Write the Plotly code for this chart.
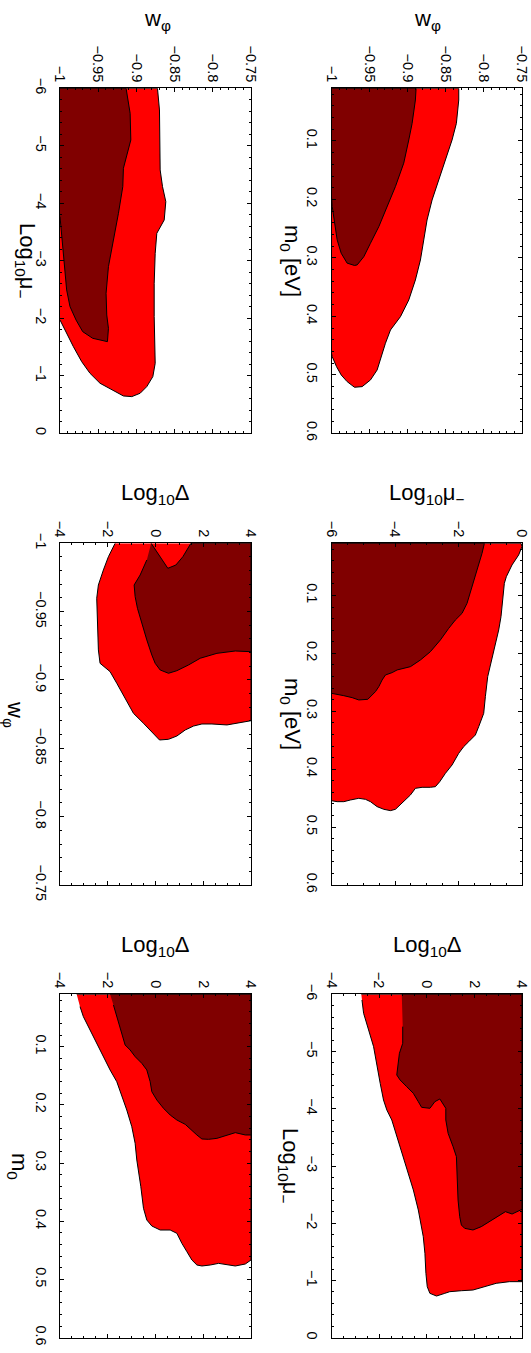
import plotly.graph_objects as go

# ---------------- tick labels ----------------
w_tickvals = [-1, -0.95, -0.9, -0.85, -0.8, -0.75]
w_ticktext = ["−1", "−0.95", "−0.9", "−0.85", "−0.8", "−0.75"]
m0_tickvals = [0.1, 0.2, 0.3, 0.4, 0.5, 0.6]
m0_ticktext = ["0.1", "0.2", "0.3", "0.4", "0.5", "0.6"]
mu_tickvals_1 = [-6, -5, -4, -3, -2, -1, 0]
mu_ticktext_1 = ["−6", "−5", "−4", "−3", "−2", "−1", "0"]
mu_tickvals_2 = [-6, -4, -2, 0]
mu_ticktext_2 = ["−6", "−4", "−2", "0"]
dl_tickvals = [-4, -2, 0, 2, 4]
dl_ticktext = ["−4", "−2", "0", "2", "4"]

# ---------------- contour boundaries (68% dark, 95% light) ----------------
# Panel A: Log10 mu_- vs w_phi
a_dark_mu = [-6, -6, -5.565, -5.101, -4.609, -4.290, -3.826, -3.362, -2.899, -2.435, -2.058, -1.826, -1.594,
             -1.652, -1.768, -1.971, -2.203, -2.493, -2.841, -3.478, -3.768]
a_dark_w = [-1, -0.9135, -0.9082, -0.9073, -0.917, -0.9178, -0.9235, -0.930, -0.9366, -0.9397, -0.9388, -0.9366, -0.9379,
            -0.9572, -0.9703, -0.979, -0.9869, -0.9913, -0.9934, -0.9978, -1]
a_red_mu = [-6, -6, -5.623, -5.101, -4.580, -4.290, -4.029, -3.710, -3.478, -3.130, -2.609, -2.029, -1.565, -1.217,
            -0.986, -0.812, -0.696, -0.638, -0.649, -0.754, -0.870, -1.043, -1.246, -1.507, -1.739, -1.971]
a_red_w = [-1, -0.8724, -0.8698, -0.8689, -0.8689, -0.8658, -0.8615, -0.8636, -0.8733, -0.8754, -0.8767, -0.8767, -0.8763,
           -0.8754, -0.8785, -0.8864, -0.8951, -0.906, -0.917, -0.9323, -0.9476, -0.9607, -0.9716, -0.9825, -0.9913, -1]

# Panel B: m0 vs w_phi
b_dark_m0 = [0.01, 0.01, 0.030, 0.070, 0.0984, 0.138, 0.178, 0.212, 0.2466, 0.275, 0.298, 0.312, 0.313, 0.309,
             0.292, 0.269, 0.241, 0.212, 0.195]
b_dark_w = [-1, -0.889, -0.8899, -0.8942, -0.8986, -0.9052, -0.9161, -0.927, -0.9379, -0.9489, -0.9576, -0.9663,
            -0.9698, -0.9795, -0.9873, -0.9926, -0.9961, -0.9991, -1]
b_red_m0 = [0.01, 0.01, 0.030, 0.070, 0.0984, 0.1326, 0.1668, 0.201, 0.2352, 0.2694, 0.3036, 0.3378, 0.372, 0.4005,
            0.4233, 0.446, 0.4689, 0.4917, 0.5088, 0.5202, 0.5213, 0.5116, 0.5002, 0.486, 0.4689, 0.463]
b_red_w = [-1, -0.833, -0.833, -0.8361, -0.8418, -0.8505, -0.8593, -0.868, -0.8746, -0.8789, -0.8833, -0.8899, -0.8986,
           -0.9095, -0.9226, -0.9292, -0.9349, -0.9401, -0.9489, -0.9598, -0.9698, -0.9795, -0.9873, -0.9934, -0.9991, -1]

# Panel C: w_phi vs Log10 Delta
c_dark_w = [-1, -0.9817, -0.9841, -0.9902, -1, -1, -0.9207, -0.9212, -0.9195, -0.9159, -0.911, -0.9068, -0.9049,
            -0.9073, -0.9122, -0.9183, -0.9293, -0.9415, -0.9524, -0.961, -0.9695, -0.9768, -0.9878]
c_dark_d = [-0.182, 0.517, 0.853, 1.147, 1.483, 4, 4, 3.343, 2.573, 1.874, 1.385, 0.895, 0.545,
            0.196, -0.014, -0.154, -0.364, -0.573, -0.755, -0.853, -0.895, -0.643, -0.364]
c_red_w = [-1, -0.9902, -0.9805, -0.9695, -0.9598, -0.9415, -0.922, -0.9122, -0.9061, -0.8976, -0.8866, -0.8756,
           -0.8683, -0.861, -0.8561, -0.8566, -0.859, -0.8634, -0.8663, -0.8678, -0.8678, -0.8671, -0.8688, -0.8702, -1]
c_red_d = [-1.692, -1.972, -2.182, -2.392, -2.462, -2.434, -2.392, -2.322, -1.902, -1.622, -1.273, -0.923,
           -0.503, -0.084, 0.168, 0.545, 0.895, 1.245, 1.594, 1.944, 2.364, 2.993, 3.552, 4, 4]

# Panel D: m0 vs Log10 mu_-
d_dark_m0 = [0.01, 0.01, 0.0273, 0.056, 0.0791, 0.1136, 0.1309, 0.1424, 0.1568, 0.1769, 0.1971, 0.2115, 0.223,
             0.2259, 0.2287, 0.2333, 0.2374, 0.246, 0.2575, 0.2661, 0.2794, 0.2805, 0.2765, 0.2731, 0.2707, 0.269]
d_dark_mu = [-6, -1.185, -1.259, -1.416, -1.521, -1.731, -1.888, -2.098, -2.308, -2.570, -2.885, -3.199, -3.514,
             -3.776, -3.934, -4.091, -4.301, -4.406, -4.510, -4.615, -4.857, -5.140, -5.350, -5.612, -5.822, -6]
d_red_m0 = [0.01, 0.01, 0.0158, 0.0301, 0.0474, 0.0676, 0.0791, 0.1079, 0.1366, 0.1597, 0.1827, 0.2057, 0.2402,
            0.2748, 0.3036, 0.3266, 0.341, 0.3525, 0.3611, 0.3726, 0.3928, 0.4072, 0.4216, 0.4302, 0.4313, 0.4313,
            0.4331, 0.4446, 0.4532, 0.4619, 0.4693, 0.4716, 0.4693, 0.4647, 0.4561, 0.4521, 0.4503, 0.4532, 0.4561,
            0.4561, 0.4544]
d_red_mu = [-6, -0.031, 0, -0.105, -0.314, -0.493, -0.556, -0.598, -0.661, -0.734, -0.839, -0.944, -1.080,
            -1.154, -1.206, -1.364, -1.468, -1.678, -1.836, -1.993, -2.203, -2.412, -2.591, -2.727, -2.885, -3.147,
            -3.357, -3.514, -3.671, -3.829, -3.986, -4.143, -4.353, -4.563, -4.773, -4.930, -5.140, -5.402, -5.612,
            -5.822, -6]

# Panel E: m0 vs Log10 Delta
e_dark_m0 = [0.01, 0.01, 0.2517, 0.2517, 0.2477, 0.2517, 0.2575, 0.2592, 0.2586, 0.2517, 0.2431, 0.2334, 0.226,
             0.2174, 0.2059, 0.1916, 0.1773, 0.1601, 0.14, 0.1286, 0.1171, 0.1057, 0.0971, 0.077, 0.0512, 0.0283]
e_dark_d = [-1.902, 4, 4, 3.762, 3.343, 2.993, 2.573, 2.224, 1.944, 1.734, 1.524, 1.245, 0.895,
            0.615, 0.336, 0.056, -0.154, -0.224, -0.364, -0.573, -0.853, -1.063, -1.273, -1.413, -1.622, -1.762]
e_red_m0 = [0.01, 0.01, 0.4665, 0.4734, 0.4768, 0.4751, 0.4723, 0.4751, 0.4768, 0.4751, 0.4665, 0.4522, 0.4379,
            0.4207, 0.415, 0.415, 0.4081, 0.3978, 0.3777, 0.3405, 0.3176, 0.2947, 0.266, 0.2374, 0.2088, 0.1858,
            0.1601, 0.14, 0.1171, 0.0942, 0.0713, 0.0484, 0.0312]
e_red_d = [-3.301, 4, 4, 3.762, 3.343, 2.993, 2.643, 2.294, 1.944, 1.734, 1.524, 1.315, 1.105,
           0.895, 0.615, 0.196, -0.154, -0.364, -0.503, -0.615, -0.713, -0.783, -0.853, -0.993, -1.203, -1.413,
           -1.622, -1.902, -2.182, -2.462, -2.741, -3.021, -3.161]

# Panel F: Log10 mu_- vs Log10 Delta
f_dark_mu = [-6, -6, -2.243, -2.202, -2.161, -2.202, -2.115, -2.027, -1.940, -1.882, -1.911, -1.969, -2.115,
             -2.406, -2.814, -3.163, -3.338, -3.571, -3.804, -4.008, -4.171, -4.124, -4.008, -4.025, -4.124, -4.270,
             -4.386, -4.503, -4.590, -4.765, -4.969, -5.144, -5.435]
f_dark_d = [-1.050, 4, 4, 3.819, 3.583, 3.304, 2.984, 2.637, 2.289, 1.941, 1.593, 1.454, 1.384,
            1.315, 1.273, 1.245, 1.106, 0.897, 0.800, 0.800, 0.550, 0.341, 0.132, -0.216, -0.355, -0.563,
            -0.842, -1.120, -1.259, -1.217, -1.148, -1.009, -1.009]
f_red_mu = [-6, -6, -0.979, -0.979, -0.950, -0.880, -0.833, -0.821, -0.804, -0.775, -0.728, -0.775, -0.891,
            -1.124, -1.474, -1.765, -1.940, -2.231, -2.581, -2.872, -3.163, -3.454, -3.804, -3.979, -4.153, -4.445,
            -4.736, -5.085, -5.377, -5.668, -5.901]
f_red_d = [-2.748, 4, 4, 3.471, 2.915, 2.358, 1.941, 1.454, 0.967, 0.758, 0.410, 0.132, 0.021,
           -0.035, -0.077, -0.146, -0.216, -0.355, -0.563, -0.772, -0.981, -1.190, -1.468, -1.677, -1.816, -1.955,
           -2.094, -2.233, -2.442, -2.651, -2.720]

DARK = "#800000"
RED = "#ff0000"
W, H = 531, 1353

fig = go.Figure()

def px_x(p):
    return p / W

def px_y(p):
    return 1 - p / H

col_dom = [[px_x(60), px_x(251)], [px_x(331.5), px_x(522)]]
row_dom = [[px_y(433.3), px_y(88.3)], [px_y(885), px_y(543.3)], [px_y(1337.7), px_y(994.3)]]

panels = [
    (0, 0, (a_red_w, a_red_mu), (a_dark_w, a_dark_mu), [-1, -0.75], w_tickvals, w_ticktext, 0.01,
     [0, -6], mu_tickvals_1, mu_ticktext_1, 0.2),
    (0, 1, (b_red_w, b_red_m0), (b_dark_w, b_dark_m0), [-1, -0.75], w_tickvals, w_ticktext, 0.01,
     [0.6, 0.01], m0_tickvals, m0_ticktext, 0.02),
    (1, 0, (c_red_d, c_red_w), (c_dark_d, c_dark_w), [-4, 4], dl_tickvals, dl_ticktext, 0.5,
     [-0.75, -1], w_tickvals, w_ticktext, 0.01),
    (1, 1, (d_red_mu, d_red_m0), (d_dark_mu, d_dark_m0), [-6, 0], mu_tickvals_2, mu_ticktext_2, 0.5,
     [0.6, 0.01], m0_tickvals, m0_ticktext, 0.02),
    (2, 0, (e_red_d, e_red_m0), (e_dark_d, e_dark_m0), [-4, 4], dl_tickvals, dl_ticktext, 0.5,
     [0.6, 0.01], m0_tickvals, m0_ticktext, 0.02),
    (2, 1, (f_red_d, f_red_mu), (f_dark_d, f_dark_mu), [-4, 4], dl_tickvals, dl_ticktext, 0.5,
     [0, -6], mu_tickvals_1, mu_ticktext_1, 0.2),
]

tickfont = dict(family="Liberation Sans, Arial, sans-serif", size=14.5, color="black")
layout = {}
for i, (r, c, red, dark, hr, hv, ht, hminor, vr, vv, vt, vminor) in enumerate(panels):
    n = "" if i == 0 else str(i + 1)
    xa, ya = "x" + n, "y" + n
    for (hx, vy), colr in ((red, RED), (dark, DARK)):
        fig.add_trace(go.Scatter(x=hx, y=vy, mode="lines", fill="toself", fillcolor=colr,
                                 line=dict(color="black", width=1), xaxis=xa, yaxis=ya,
                                 hoverinfo="skip", showlegend=False))
    common = dict(ticks="inside", ticklen=4, tickwidth=1, tickcolor="black", showline=True,
                  linecolor="black", linewidth=1, mirror="allticks", showgrid=False, zeroline=False,
                  tickangle=90, tickfont=tickfont, tickmode="array", automargin=False,
                  ticklabeloverflow="allow")
    layout["xaxis" + n] = dict(domain=col_dom[c], range=hr, side="top", tickvals=hv, ticktext=ht,
                               anchor=ya, minor=dict(tickmode="linear", tick0=0, dtick=hminor, ticks="inside",
                                                     ticklen=2, tickcolor="black", showgrid=False),
                               **common)
    layout["yaxis" + n] = dict(domain=row_dom[r], range=vr, side="left", tickvals=vv, ticktext=vt,
                               anchor=xa, ticklabelstandoff=6,
                               minor=dict(tickmode="linear", tick0=0, dtick=vminor, ticks="inside",
                                          ticklen=2, tickcolor="black", showgrid=False),
                               **common)

titlefont = dict(family="Liberation Sans, Arial, sans-serif", size=22, color="black")
LOGD = "Log<sub>10</sub>Δ"
LOGMU = "Log<sub>10</sub>μ<sub>−</sub>"
WPHI = "w<sub>φ</sub>"
M0EV = "m<sub>0</sub> [eV]"
M0 = "m<sub>0</sub>"

# (text, x_px, y_px, angle)
titles = [
    (WPHI, 157, 20, 0), (WPHI, 427, 20, 0),
    (LOGD, 155.5, 494, 0), (LOGMU, 427, 494, 0),
    (LOGD, 155.5, 946, 0), (LOGD, 427, 946, 0),
    (LOGMU, 26, 261, 90), (M0EV, 291, 261, 90),
    (WPHI, 14, 714, 90), (M0EV, 291, 714, 90),
    (M0, 18, 1166, 90), (LOGMU, 289, 1166, 90),
]
annotations = [dict(text=t, x=px_x(x), y=px_y(y), xref="paper", yref="paper", showarrow=False,
                    xanchor="center", yanchor="middle", textangle=a, font=titlefont)
               for t, x, y, a in titles]

fig.update_layout(width=W, height=H, autosize=False, margin=dict(l=0, r=0, t=0, b=0, pad=0),
                  paper_bgcolor="white", plot_bgcolor="white", annotations=annotations, **layout)

fig.write_html("out.html", config={"displayModeBar": False},
               post_script="document.body.style.margin='0';document.body.style.padding='0';"
                           "document.body.style.overflow='hidden';")
